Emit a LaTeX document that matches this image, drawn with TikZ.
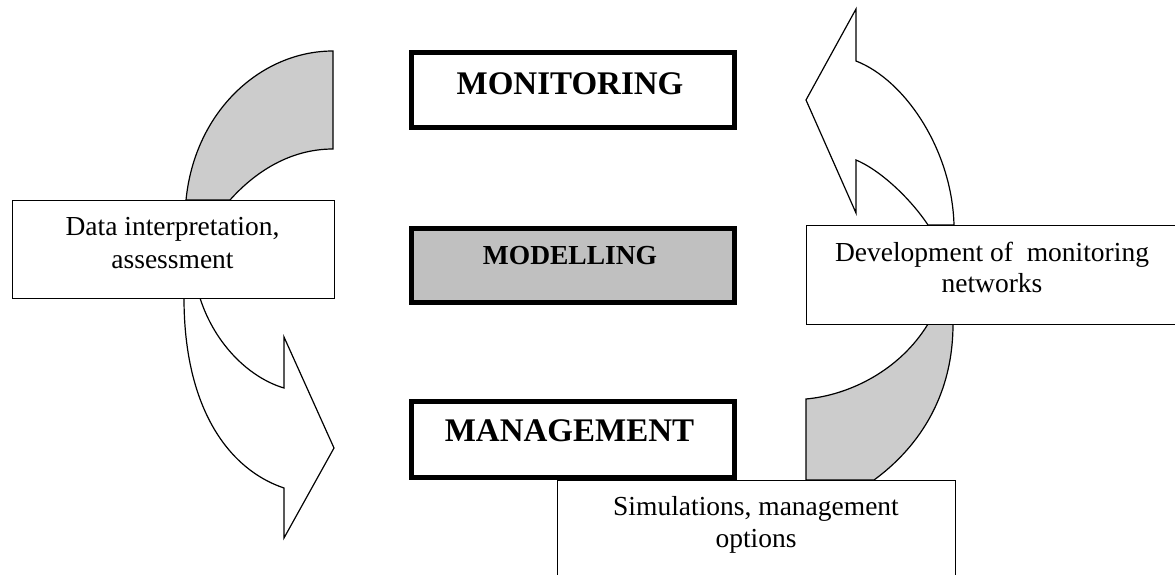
\documentclass[tikz,border=0pt]{standalone}
\usepackage{fontspec}
\setmainfont{Liberation Serif}
\definecolor{arrowgray}{RGB}{204,204,204}
\definecolor{modelgray}{RGB}{192,192,192}
\begin{document}
\begin{tikzpicture}[x=1pt,y=-1pt,
  thickbox/.style={draw, line width=5pt, rectangle, inner sep=0pt, anchor=north west},
  thinbox/.style={draw, line width=1.2pt, fill=white, rectangle, inner sep=0pt, anchor=north west},
  bodytext/.style={inner sep=0pt, anchor=base, font=\fontsize{27.5}{33}\selectfont},
  headtext/.style={inner sep=0pt, anchor=base, font=\fontsize{33}{40}\selectfont\bfseries},
  midtext/.style={inner sep=0pt, anchor=base, font=\fontsize{27.5}{33}\selectfont\bfseries},
  grayarrow/.style={draw, line width=1.2pt, fill=arrowgray},
  whitearrow/.style={draw, line width=1.2pt, fill=white}]
\useasboundingbox (0,0) rectangle (1175,575);
\clip (0,0) rectangle (1175,575);

% left curved arrow: grey tail above the box, white head below it
\draw[grayarrow] (333,51) -- (333,149)
  .. controls (290,149) and (255,172) .. (230,200) -- (186,200)
  .. controls (195,110) and (262,51) .. (333,51) -- cycle;
\draw[whitearrow] (184,298) .. controls (184,410) and (230,470) .. (284,488)
  -- (284,538) -- (334,448) -- (284,337) -- (284,388)
  .. controls (250,378) and (215,345) .. (200,298) -- cycle;

% right curved arrow: white head above the box, grey tail below it
\draw[whitearrow] (954,225) .. controls (952,150) and (905,80) .. (856,61)
  -- (856,9) -- (806,100) -- (856,213) -- (856,160)
  .. controls (880,170) and (910,198) .. (928,225) -- cycle;
\draw[grayarrow] (928,324) .. controls (900,370) and (850,395) .. (806,399)
  -- (806,480) -- (874,480)
  .. controls (915,450) and (953,400) .. (953,324) -- cycle;

% central column
\node[thickbox, minimum width=323pt, minimum height=75pt] (monitoring) at (408.5,50.5) {};
\node[thickbox, fill=modelgray, minimum width=323pt, minimum height=74pt] (modelling) at (408.5,225.5) {};
\node[thickbox, minimum width=323pt, minimum height=76pt] (management) at (408.5,398.5) {};
\node[headtext] (monitoringtxt) at (570,95) {MONITORING};
\node[midtext] (modellingtxt) at (570,264) {MODELLING};
\node[headtext] (managementtxt) at (569.5,441.5) {MANAGEMENT};

% side boxes
\node[thinbox, minimum width=322pt, minimum height=98pt] (data) at (11.6,200) {};
\node[thinbox, minimum width=400pt, minimum height=99pt] (devel) at (806,225) {};
\node[thinbox, minimum width=398pt, minimum height=130pt] (simul) at (557,480) {};

\node[bodytext] (data1) at (172.5,235.5) {Data interpretation,};
\node[bodytext] (data2) at (172.5,268) {assessment};
\node[bodytext] (devel1) at (992,261) {Development of\ \ monitoring};
\node[bodytext] (devel2) at (992,292) {networks};
\node[bodytext] (simul1) at (756,515) {Simulations, management};
\node[bodytext] (simul2) at (756,547.5) {options};
\end{tikzpicture}
\end{document}
